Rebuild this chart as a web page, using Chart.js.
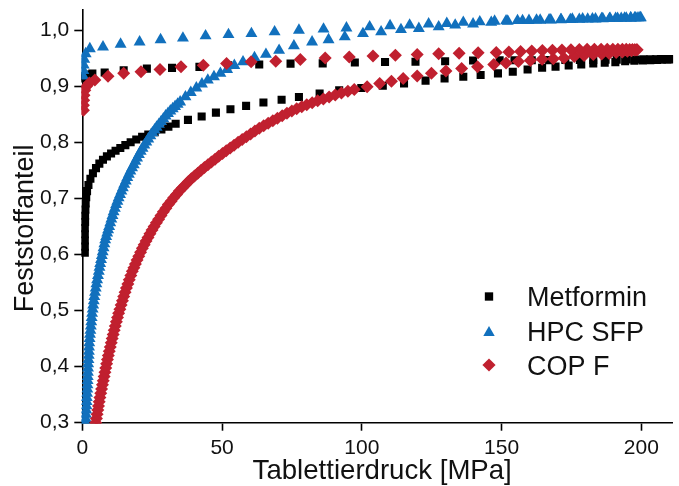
<!DOCTYPE html>
<html>
<head>
<meta charset="utf-8">
<script src="https://cdn.jsdelivr.net/npm/chart.js@4.4.1/dist/chart.umd.min.js"></script>
<style>
  html, body { margin: 0; padding: 0; background: #ffffff; }
  canvas { display: block; }
</style>
</head>
<body>
<canvas id="c" width="679" height="486"></canvas>
<script>
// Axis ticks and titles
const xTicks = [0, 50, 100, 150, 200];
const yTicks = [0.3, 0.4, 0.5, 0.6, 0.7, 0.8, 0.9, 1.0];
const xTitle = 'Tablettierdruck [MPa]';
const yTitle = 'Feststoffanteil';
const seriesNames = ['Metformin', 'HPC SFP', 'COP F'];

// [pressure in MPa, solid fraction] – compression (load) and decompression (unload)
const metforminLoad = [
  [0.9,0.603],[0.9,0.614],[0.9,0.625],[0.9,0.636],[0.9,0.647],[1.0,0.658],[1.0,0.669],[1.1,0.680],
  [1.2,0.691],[1.4,0.702],[1.7,0.713],[2.2,0.724],[2.9,0.735],[3.8,0.745],[4.9,0.754],[6.1,0.762],
  [7.4,0.769],[8.8,0.775],[10.3,0.780],[11.9,0.785],[13.6,0.790],[15.4,0.795],[17.3,0.800],[19.3,0.805],
  [21.4,0.810],[23.6,0.814],[25.9,0.818],[28.3,0.823],[30.8,0.828],[33.4,0.833],[37.8,0.840],[42.7,0.846],
  [47.8,0.853],[53.0,0.859],[58.6,0.865],[64.8,0.871],[71.3,0.876],[77.5,0.881],[84.9,0.887],[91.9,0.893],
  [99.8,0.897],[107.5,0.901],[115.1,0.905],[122.8,0.910],[129.6,0.914],[136.3,0.917],[142.5,0.920],
  [148.7,0.923],[154.0,0.926],[159.3,0.930],[164.5,0.933],[169.3,0.935],[174.0,0.937],[178.5,0.939],
  [182.8,0.9405],[186.9,0.942],[190.7,0.943],[194.2,0.9445],[197.5,0.9455],[200.5,0.946],[203.2,0.9465],
  [205.6,0.947],[207.6,0.9475],[209.3,0.948],[210.6,0.948]
];
const metforminUnload = [
  [210.0,0.9485],[208.6,0.9485],[207.0,0.9485],[205.2,0.9483],[203.2,0.948],[200.8,0.948],[198.0,0.9478],
  [194.8,0.9476],[191.2,0.9474],[187.2,0.9472],[182.8,0.947],[178.0,0.9468],[172.8,0.9467],[167.0,0.9466],
  [160.8,0.9465],[154.6,0.9465],[149.3,0.9463],[139.8,0.946],[129.8,0.9447],[119.2,0.9437],[108.3,0.9433],
  [97.5,0.9424],[86.0,0.9408],[74.5,0.9404],[63.3,0.9388],[52.2,0.9374],[41.9,0.9346],[32.1,0.9328],
  [23.1,0.9315],[14.8,0.9287],[8.0,0.9246],[3.6,0.9225],[1.5,0.921],[0.8,0.918],[0.5,0.914]
];

const hpcLoad = [
  [1.1,0.300],[1.2,0.3075],[1.3,0.315],[1.4,0.3225],[1.5,0.330],[1.55,0.3375],[1.6,0.345],[1.7,0.3525],
  [1.8,0.360],[1.85,0.3675],[1.9,0.375],[1.95,0.3825],[2.0,0.390],[2.05,0.3975],[2.1,0.405],[2.2,0.4125],
  [2.3,0.420],[2.35,0.4275],[2.4,0.435],[2.5,0.4425],[2.6,0.450],[2.75,0.4575],[2.9,0.465],[3.05,0.4725],
  [3.2,0.480],[3.35,0.4875],[3.5,0.495],[3.7,0.5025],[3.9,0.510],[4.1,0.5175],[4.3,0.525],[4.55,0.5325],
  [4.8,0.540],[5.05,0.5475],[5.3,0.555],[5.6,0.5625],[5.9,0.570],[6.15,0.577],[6.4,0.584],[6.7,0.591],
  [7.0,0.598],[7.3,0.605],[7.6,0.612],[7.9,0.619],[8.2,0.626],[8.55,0.632],[8.9,0.638],[9.25,0.644],
  [9.6,0.650],[10.0,0.6565],[10.4,0.663],[10.8,0.6695],[11.2,0.676],[11.65,0.6825],[12.1,0.689],[12.55,0.695],
  [13.0,0.701],[13.5,0.707],[14.0,0.713],[14.5,0.719],[15.0,0.725],[15.55,0.731],[16.1,0.737],[16.65,0.743],
  [17.2,0.749],[17.8,0.7545],[18.4,0.760],[19.0,0.766],[19.6,0.772],[20.25,0.778],[20.9,0.784],[21.55,0.7895],
  [22.2,0.795],[22.9,0.8005],[23.6,0.806],[24.35,0.8115],[25.1,0.817],[25.85,0.822],[26.6,0.827],[27.4,0.832],
  [28.2,0.837],[29.0,0.842],[29.8,0.847],[30.65,0.8515],[31.5,0.856],[32.35,0.860],[33.2,0.864],[34.1,0.868],
  [35.0,0.872],[36.9,0.881],[38.8,0.889],[40.8,0.897],[42.8,0.904],[44.9,0.911],[47.1,0.917],[49.4,0.923],
  [51.8,0.930],[54.4,0.937],[57.5,0.9435],[61.6,0.951],[65.7,0.957],[70.4,0.964],[75.7,0.972],[82.2,0.979],
  [88.1,0.983],[93.9,0.988],[100.4,0.994],[106.9,0.997],[114.0,1.001],[120.4,1.003],[127.5,1.006],
  [133.4,1.009],[139.8,1.011],[146.3,1.014],[152.2,1.016],[157.5,1.017],[162.5,1.018],[167.0,1.0185],
  [171.3,1.019],[175.3,1.0195],[179.0,1.020],[182.5,1.0203],[185.8,1.0206],[188.8,1.021],[191.5,1.0212],
  [194.0,1.0215],[196.2,1.0217],[198.0,1.022],[199.5,1.0222]
];
const hpcUnload = [
  [199.8,1.0222],[198.8,1.0221],[197.6,1.022],[196.2,1.0218],[194.6,1.0215],[192.8,1.0212],[190.8,1.021],
  [188.6,1.0207],[186.2,1.0204],[183.6,1.020],[180.8,1.0197],[177.8,1.0193],[174.6,1.019],[171.2,1.0186],
  [167.6,1.0182],[163.8,1.0178],[159.8,1.0173],[155.7,1.017],[151.6,1.0166],[147.5,1.016],[142.2,1.015],
  [136.3,1.014],[130.4,1.012],[123.9,1.011],[117.1,1.009],[110.1,1.008],[102.8,1.006],[94.5,1.004],
  [86.3,1.002],[77.5,1.000],[68.8,0.997],[60.5,0.994],[52.3,0.992],[44.1,0.990],[36.0,0.986],[28.0,0.983],
  [20.5,0.979],[13.7,0.975],[7.4,0.970],[2.7,0.967],[1.2,0.958],[0.7,0.948],[0.5,0.938],[0.4,0.928],[0.3,0.918]
];

const copLoad = [
  [4.8,0.300],[5.05,0.3075],[5.3,0.315],[5.55,0.3225],[5.8,0.330],[6.05,0.3375],[6.3,0.345],[6.6,0.3525],
  [6.9,0.360],[7.2,0.3675],[7.5,0.375],[7.8,0.3825],[8.1,0.390],[8.4,0.3975],[8.7,0.405],[9.0,0.4125],
  [9.3,0.420],[9.65,0.4275],[10.0,0.435],[10.35,0.4425],[10.7,0.450],[11.05,0.4575],[11.4,0.465],[11.8,0.4725],
  [12.2,0.480],[12.6,0.4875],[13.0,0.495],[13.45,0.5025],[13.9,0.510],[14.35,0.5175],[14.8,0.525],[15.3,0.5325],
  [15.8,0.540],[16.3,0.5475],[16.8,0.555],[17.35,0.5625],[17.9,0.570],[18.45,0.5765],[19.0,0.583],[19.6,0.590],
  [20.2,0.597],[20.85,0.604],[21.5,0.611],[22.15,0.6175],[22.8,0.624],[23.5,0.6305],[24.2,0.637],[24.95,0.6435],
  [25.7,0.650],[26.5,0.6565],[27.3,0.663],[28.15,0.6695],[29.0,0.676],[29.9,0.6825],[30.8,0.689],[31.75,0.695],
  [32.7,0.701],[33.7,0.707],[34.7,0.713],[35.75,0.7185],[36.8,0.724],[37.9,0.7295],[39.0,0.735],[40.15,0.740],
  [41.3,0.745],[42.5,0.750],[43.7,0.755],[44.95,0.760],[46.2,0.765],[47.5,0.770],[48.8,0.775],[50.15,0.780],
  [51.5,0.785],[52.9,0.790],[54.3,0.795],[55.75,0.800],[57.2,0.805],[58.7,0.810],[60.2,0.815],[61.75,0.820],
  [63.3,0.825],[64.9,0.8295],[66.5,0.834],[68.15,0.8385],[69.8,0.843],[71.5,0.8475],[73.2,0.852],[74.95,0.856],
  [76.7,0.860],[78.5,0.8635],[80.3,0.867],[82.25,0.8705],[84.2,0.874],[86.25,0.8775],[88.3,0.881],[90.5,0.8845],
  [92.7,0.888],[95.0,0.891],[97.3,0.894],[101.9,0.899],[106.4,0.905],[110.6,0.909],[114.8,0.914],[119.8,0.9185],
  [124.9,0.923],[130.1,0.927],[135.7,0.9317],[141.4,0.9346],[147.2,0.939],[151.6,0.9415],[156.0,0.944],
  [160.3,0.946],[164.5,0.948],[168.5,0.949],[172.3,0.9505],[176.0,0.953],[179.5,0.955],[182.8,0.9565],
  [185.8,0.9575],[188.5,0.9585],[191.0,0.960],[193.2,0.961],[195.0,0.9625],[196.5,0.9635],[197.7,0.9645],
  [198.5,0.965]
];
const copUnload = [
  [198.2,0.9650],[197.6,0.9652],[196.8,0.9654],[195.8,0.9656],[194.6,0.9658],[193.2,0.966],[191.6,0.966],
  [189.8,0.966],[187.8,0.966],[185.6,0.966],[183.2,0.966],[180.6,0.9658],[177.8,0.9656],[174.8,0.9652],
  [171.6,0.9648],[168.2,0.9643],[164.6,0.9636],[160.8,0.9628],[156.8,0.9620],[152.6,0.9610],[148.1,0.960],
  [141.6,0.9596],[134.8,0.9587],[127.5,0.9582],[119.8,0.9567],[112.0,0.9555],[104.0,0.954],[95.5,0.9524],
  [86.9,0.9506],[78.0,0.9478],[69.2,0.9447],[60.4,0.9435],[51.6,0.9406],[43.3,0.9376],[35.3,0.9346],
  [27.8,0.930],[21.0,0.9257],[14.8,0.923],[9.2,0.918],[4.5,0.911],[2.5,0.906],[1.5,0.900],[0.9,0.893],
  [0.6,0.884],[0.5,0.875],[0.4,0.866],[0.4,0.857]
];

const FONT = "'Liberation Sans', Arial, Helvetica, sans-serif";
const TEXT = '#111111';
const toPts = arr => arr.map(([x, y]) => ({ x, y }));

const markers = [
  { style: 'rect', radius: 5.7, color: '#000000' },
  { style: 'triangle', radius: 6.9, color: '#1170BD' },
  { style: 'rectRot', radius: 6.5, color: '#C0202F' }
];
const seriesData = [
  metforminLoad.concat(metforminUnload),
  hpcLoad.concat(hpcUnload),
  copLoad.concat(copUnload)
];

const datasets = seriesNames.map((name, i) => ({
  label: name,
  data: toPts(seriesData[i]),
  pointStyle: markers[i].style,
  pointRadius: markers[i].radius,
  pointBackgroundColor: markers[i].color,
  pointBorderWidth: 0,
  backgroundColor: markers[i].color,
  borderColor: markers[i].color,
  showLine: false,
  clip: 1,
  order: 3 - i
}));

// Same geometry as Chart.js point styles, used for the legend symbols
function drawMarker(ctx, style, r, x, y, color) {
  ctx.beginPath();
  if (style === 'rect') {
    const s = Math.SQRT1_2 * r;
    ctx.rect(x - s, y - s, 2 * s, 2 * s);
  } else if (style === 'triangle') {
    ctx.moveTo(x, y - r);
    ctx.lineTo(x + 0.8660254 * r, y + 0.5 * r);
    ctx.lineTo(x - 0.8660254 * r, y + 0.5 * r);
    ctx.closePath();
  } else {
    ctx.moveTo(x - r, y);
    ctx.lineTo(x, y + r);
    ctx.lineTo(x + r, y);
    ctx.lineTo(x, y - r);
    ctx.closePath();
  }
  ctx.fillStyle = color;
  ctx.fill();
}

const annotations = {
  id: 'annotations',
  afterDraw(chart) {
    const { ctx, chartArea } = chart;
    ctx.save();
    ctx.fillStyle = TEXT;
    ctx.font = '27px ' + FONT;
    ctx.textBaseline = 'alphabetic';

    // axis titles
    ctx.textAlign = 'center';
    ctx.font = '27.6px ' + FONT;
    ctx.fillText(xTitle, (chartArea.left + chartArea.right) / 2 + 5, chartArea.bottom + 56.5);
    ctx.font = '27px ' + FONT;
    ctx.save();
    ctx.translate(33, (chartArea.top + chartArea.bottom) / 2 + 12);
    ctx.rotate(-Math.PI / 2);
    ctx.fillText(yTitle, 0, 0);
    ctx.restore();

    // legend
    const symX = 489, textX = 527, rowY = [296.5, 331, 365], rowShift = [0, 1.6, 0];
    ctx.textAlign = 'left';
    chart.data.datasets.forEach((ds, i) => {
      drawMarker(ctx, markers[i].style, markers[i].style === 'rect' ? 5.9 : 6.6,
                 symX, rowY[i] + rowShift[i], markers[i].color);
      ctx.fillStyle = TEXT;
      ctx.fillText(ds.label, textX, rowY[i] + 9.7);
    });
    ctx.restore();
  }
};

const axisCommon = {
  type: 'linear',
  border: { display: true, color: '#000000', width: 1.6 },
  grid: { display: true, drawOnChartArea: false, drawTicks: true, tickLength: 8,
          tickWidth: 1.6, tickColor: '#000000' },
  title: { display: false }
};

new Chart(document.getElementById('c'), {
  type: 'scatter',
  data: { datasets },
  options: {
    responsive: false,
    animation: false,
    events: [],
    devicePixelRatio: 1,
    layout: { padding: { top: 10, left: 0, right: 0, bottom: 0 } },
    plugins: { legend: { display: false }, tooltip: { enabled: false } },
    scales: {
      x: Object.assign({}, axisCommon, {
        position: 'bottom',
        min: 0, max: 211,
        afterBuildTicks: s => { s.ticks = xTicks.map(v => ({ value: v })); },
        afterFit: s => { s.height = 63.3; s.paddingLeft = 0; s.paddingRight = 0; },
        ticks: { color: TEXT, font: { family: FONT, size: 21 }, padding: 5,
                 maxRotation: 0, autoSkip: false, callback: v => String(v) }
      }),
      y: Object.assign({}, axisCommon, {
        position: 'left',
        min: 0.3, max: 1.036,
        afterBuildTicks: s => { s.ticks = yTicks.map(v => ({ value: v })); },
        afterFit: s => { s.width = 82.3; s.paddingTop = 0; s.paddingBottom = 0; },
        ticks: { color: TEXT, font: { family: FONT, size: 21 }, padding: 5,
                 autoSkip: false, callback: v => v.toFixed(1).replace('.', ',') }
      })
    }
  },
  plugins: [annotations]
});
</script>
</body>
</html>
